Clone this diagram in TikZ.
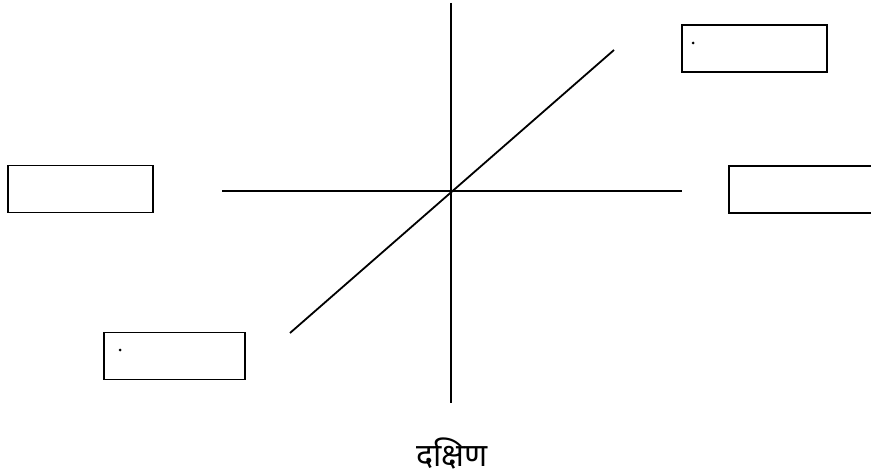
\documentclass[tikz,border=0pt]{standalone}
\usepackage{fontspec}
\newfontfamily\devfont[Script=Devanagari]{Noto Sans}
\begin{document}
\begin{tikzpicture}[x=1pt,y=-1pt,
  axis/.style={line width=1.8pt},
  labelbox/.style={draw,line width=1.8pt,minimum width=145pt,minimum height=47pt,inner sep=0pt},
  speck/.style={fill,circle,inner sep=0pt,minimum size=3pt}]
\useasboundingbox (0,0) rectangle (871,476);
\coordinate (n) at (451,3);
\coordinate (s) at (451,403);
\coordinate (w) at (222,191);
\coordinate (e) at (682,191);
\coordinate (sw) at (290,333);
\coordinate (ne) at (614,50);
\draw[axis] (n) -- (s);
\draw[axis] (w) -- (e);
\draw[axis] (sw) -- (ne);
\node[labelbox] (bl) at (80.5,189) {};
\node[labelbox] (btr) at (754.5,48.5) {};
\node[labelbox,minimum width=150pt] (br) at (804,189.5) {};
\node[labelbox,minimum width=141pt] (bbl) at (174.5,356) {};
\node[speck] (d1) at (693,43) {};
\node[speck] (d2) at (120,350) {};
\node[font=\devfont\fontsize{32}{36}\selectfont] (south) at (452,454) {दक्षिण};
\end{tikzpicture}
\end{document}
